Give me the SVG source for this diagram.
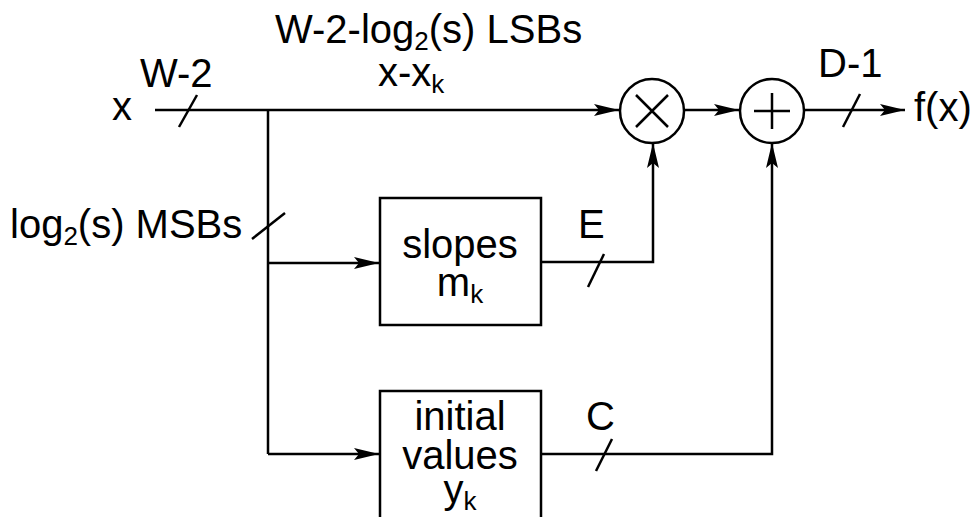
<svg xmlns="http://www.w3.org/2000/svg" width="972" height="517" viewBox="0 0 972 517">
<style>
text{font-family:"Liberation Sans",Arial,sans-serif;font-size:40px;fill:#000}
.c{text-anchor:middle}
.sub{font-size:26px}
.ln{stroke:#000;stroke-width:2.5;fill:none}
.box{stroke:#000;stroke-width:2.5;fill:#fff}
</style>
<defs>
<marker id="ah" markerWidth="26" markerHeight="14" refX="25" refY="7" orient="auto" markerUnits="userSpaceOnUse">
<path d="M0,1 L25,7 L0,13 L5,7 Z" fill="#000"/>
</marker>
</defs>
<rect width="972" height="517" fill="#fff"/>
<g id="connectors">
<path class="ln" d="M155,110 H619" marker-end="url(#ah)"/>
<path class="ln" d="M268,110 V454"/>
<path class="ln" d="M268,263 H379" marker-end="url(#ah)"/>
<path class="ln" d="M268,454 H379" marker-end="url(#ah)"/>
<path class="ln" d="M684,110 H739" marker-end="url(#ah)"/>
<path class="ln" d="M804,110 H905" marker-end="url(#ah)"/>
<path class="ln" d="M541,262 H653 V143" marker-end="url(#ah)"/>
<path class="ln" d="M541,454 H772 V143" marker-end="url(#ah)"/>
<path class="ln" d="M179,127 L197,95"/>
<path class="ln" d="M252,239 L285,213"/>
<path class="ln" d="M588,287 L604,254"/>
<path class="ln" d="M596,471 L612,439"/>
<path class="ln" d="M843,127 L860,94"/>
</g>
<g id="multiply">
<circle class="box" cx="652" cy="111" r="32"/>
<path class="ln" d="M636,95 L668,127 M668,95 L636,127"/>
</g>
<g id="add">
<circle class="box" cx="772" cy="111" r="32"/>
<path class="ln" d="M772,93 V129 M754,111 H790"/>
</g>
<g id="slopes">
<rect class="box" x="380" y="198" width="161" height="127"/>
<text class="c" x="460" y="258">slopes</text>
<text class="c" x="460" y="296">m<tspan class="sub" dy="7">k</tspan></text>
</g>
<g id="initial">
<rect class="box" x="380" y="391" width="161" height="140"/>
<text class="c" x="460" y="430">initial</text>
<text class="c" x="460" y="469">values</text>
<text class="c" x="460" y="503">y<tspan class="sub" dy="7">k</tspan></text>
</g>
<g id="labels">
<text x="112" y="120">x</text>
<text x="140" y="87">W-2</text>
<text x="378" y="86">x-x<tspan class="sub" dy="7">k</tspan></text>
<text x="275" y="43">W-2-log<tspan class="sub" dy="7">2</tspan><tspan dy="-7">(s) LSBs</tspan></text>
<text x="10" y="238">log<tspan class="sub" dy="7">2</tspan><tspan dy="-7">(s) MSBs</tspan></text>
<text x="578" y="238">E</text>
<text x="586" y="430">C</text>
<text x="818" y="77">D-1</text>
<text x="914" y="121">f(x)</text>
</g>
</svg>
